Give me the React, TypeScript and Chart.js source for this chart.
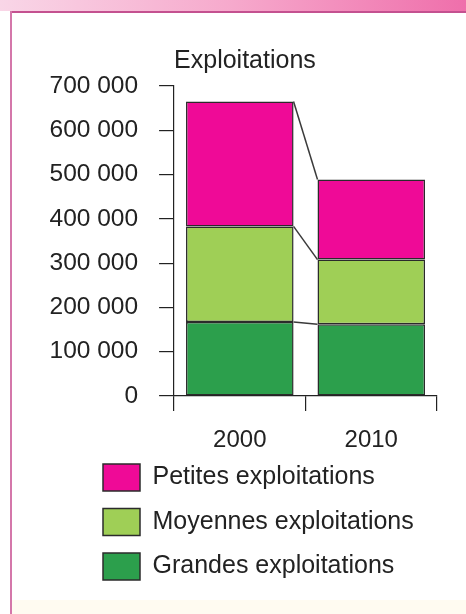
import React, { useEffect, useRef } from 'react';
import { Chart, registerables } from 'chart.js';

Chart.register(...registerables);

const categories = ['2000', '2010'];
const seriesNames = ['Grandes exploitations', 'Moyennes exploitations', 'Petites exploitations'];
const grandes = [167000, 162000];
const moyennes = [216000, 146000];
const petites = [282000, 181000];
const yTickLabels = ['0', '100 000', '200 000', '300 000', '400 000', '500 000', '600 000', '700 000'];
const chartTitle = 'Exploitations';

const FONT = '"Liberation Sans", Arial, sans-serif';
const INK = '#222222';

const connectors = {
  id: 'connectors',
  afterDatasetsDraw(chart: any) {
    const ctx = chart.ctx;
    ctx.save();
    ctx.strokeStyle = '#3a3a3a';
    ctx.lineWidth = 1.5;
    chart.data.datasets.forEach((_ds: any, i: number) => {
      const els = chart.getDatasetMeta(i).data;
      for (let j = 0; j < els.length - 1; j++) {
        const a = els[j];
        const b = els[j + 1];
        ctx.beginPath();
        ctx.moveTo(a.x + a.width / 2, a.y);
        ctx.lineTo(b.x - b.width / 2, b.y);
        ctx.stroke();
      }
    });
    ctx.restore();
  },
};

const legendPlace = {
  id: 'legendPlace',
  afterLayout(chart: any) {
    const lg = chart.legend;
    if (!lg) return;
    const dx = 85.5 - lg.left;
    const dy = 446.5 - lg.top;
    lg.left += dx;
    lg.right += dx;
    lg.top += dy;
    lg.bottom += dy;
  },
};

export default function App() {
  const ref = useRef<HTMLCanvasElement | null>(null);

  useEffect(() => {
    document.body.style.margin = '0';
    const canvas = ref.current;
    if (!canvas) return;
    Chart.defaults.font.family = FONT;
    const colors = ['#2c9f4c', '#9fcf56', '#ef0a97'];
    const values = [grandes, moyennes, petites];
    const chart = new Chart(canvas, {
      type: 'bar',
      data: {
        labels: categories,
        datasets: seriesNames.map((name, i) => ({
          label: name,
          data: values[i],
          backgroundColor: colors[i],
          borderColor: '#2b2b2b',
          borderWidth: 1.5,
          borderSkipped: false,
          categoryPercentage: 1,
          barPercentage: 0.818,
        })),
      },
      options: {
        responsive: false,
        maintainAspectRatio: false,
        animation: false,
        layout: { padding: { left: 28.5, right: 29, top: 0, bottom: 0.7 } },
        plugins: {
          title: {
            display: true,
            text: chartTitle,
            align: 'start',
            fullSize: false,
            color: INK,
            font: { size: 25, weight: 'normal', family: FONT },
            padding: { top: 46, bottom: 10 },
          },
          legend: {
            position: 'bottom',
            align: 'start',
            reverse: true,
            labels: {
              boxWidth: 37,
              boxHeight: 27,
              padding: 17.5,
              color: INK,
              font: { size: 25, family: FONT },
            },
          },
          tooltip: { enabled: false },
        },
        scales: {
          x: {
            stacked: true,
            offset: true,
            grid: { drawOnChartArea: false, drawTicks: true, tickLength: 15, color: INK, lineWidth: 1.2, offset: true },
            border: { display: true, color: INK, width: 1.2 },
            ticks: { color: INK, font: { size: 24, family: FONT }, padding: 15 },
          },
          y: {
            stacked: true,
            min: 0,
            max: 700000,
            grid: { drawOnChartArea: false, drawTicks: true, tickLength: 15, color: INK, lineWidth: 1.2 },
            border: { display: true, color: INK, width: 1.2 },
            ticks: {
              stepSize: 100000,
              color: INK,
              padding: 21,
              font: { size: 24.5, family: FONT },
              callback: (_v: any, i: number) => yTickLabels[i],
            },
          },
        },
      },
      plugins: [connectors, legendPlace],
    } as any);
    return () => chart.destroy();
  }, []);

  return (
    <div style={{ position: 'relative', width: 466, height: 614, background: '#ffffff', overflow: 'hidden' }}>
      <div style={{ position: 'absolute', left: 0, top: 0, width: 466, height: 11, background: 'linear-gradient(to right, #f9d6e7, #f6a9cc 50%, #ef6fab)' }} />
      <div style={{ position: 'absolute', left: 10, top: 11, width: 456, height: 2, background: '#c45190' }} />
      <div style={{ position: 'absolute', left: 10, top: 11, width: 2, height: 603, background: '#d477aa' }} />
      <div style={{ position: 'absolute', left: 12, top: 600, width: 454, height: 14, background: '#fffbf1' }} />
      <canvas ref={ref} width={466} height={614} style={{ position: 'absolute', left: 0, top: 0, width: 466, height: 614, display: 'block' }} />
    </div>
  );
}
